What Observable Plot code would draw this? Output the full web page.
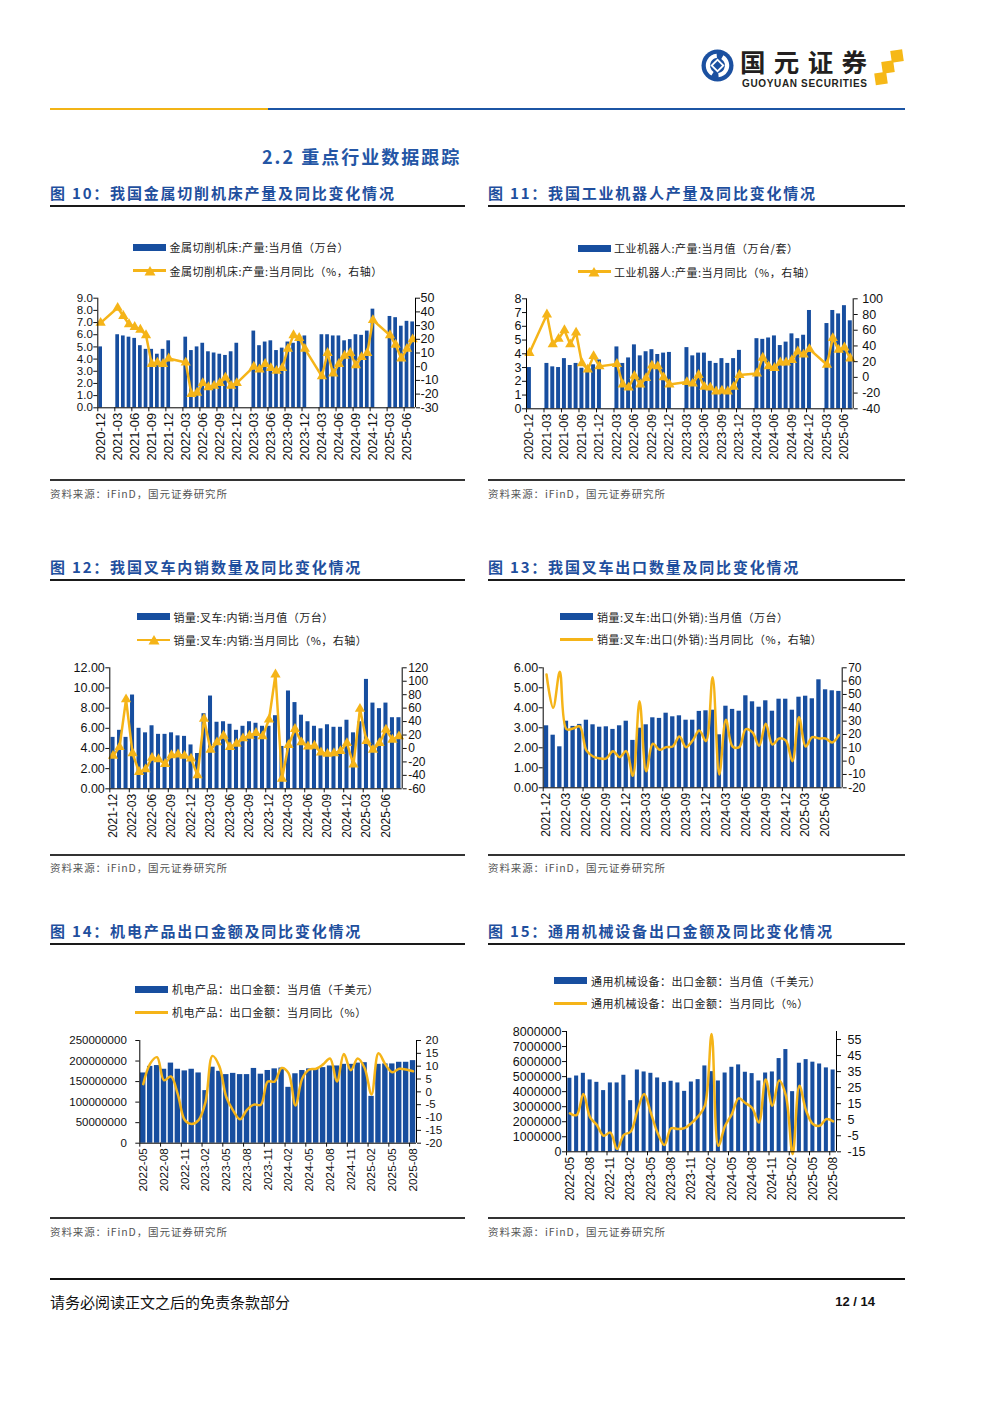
<!DOCTYPE html>
<html><head><meta charset="utf-8">
<script src="https://cdn.jsdelivr.net/npm/d3@7"></script>
<script src="https://cdn.jsdelivr.net/npm/@observablehq/plot@0.6"></script>
<style>
body{margin:0;background:#fff;}
#page{position:relative;width:1000px;height:1414px;overflow:hidden;background:#fff;font-family:"Noto Sans CJK SC","Noto Sans",sans-serif;}
.abs{position:absolute;white-space:nowrap;line-height:1;}
</style></head><body><div id="page"></div>
<script>
// ---------------- DATA ----------------
const monthsA = ["2020-12","2021-01","2021-02","2021-03","2021-04","2021-05","2021-06","2021-07","2021-08","2021-09","2021-10","2021-11","2021-12","2022-01","2022-02","2022-03","2022-04","2022-05","2022-06","2022-07","2022-08","2022-09","2022-10","2022-11","2022-12","2023-01","2023-02","2023-03","2023-04","2023-05","2023-06","2023-07","2023-08","2023-09","2023-10","2023-11","2023-12","2024-01","2024-02","2024-03","2024-04","2024-05","2024-06","2024-07","2024-08","2024-09","2024-10","2024-11","2024-12","2025-01","2025-02","2025-03","2025-04","2025-05","2025-06","2025-07"];
const monthsB = ["2021-12","2022-01","2022-02","2022-03","2022-04","2022-05","2022-06","2022-07","2022-08","2022-09","2022-10","2022-11","2022-12","2023-01","2023-02","2023-03","2023-04","2023-05","2023-06","2023-07","2023-08","2023-09","2023-10","2023-11","2023-12","2024-01","2024-02","2024-03","2024-04","2024-05","2024-06","2024-07","2024-08","2024-09","2024-10","2024-11","2024-12","2025-01","2025-02","2025-03","2025-04","2025-05","2025-06","2025-07","2025-08"];
const monthsC = ["2022-05","2022-06","2022-07","2022-08","2022-09","2022-10","2022-11","2022-12","2023-01","2023-02","2023-03","2023-04","2023-05","2023-06","2023-07","2023-08","2023-09","2023-10","2023-11","2023-12","2024-01","2024-02","2024-03","2024-04","2024-05","2024-06","2024-07","2024-08","2024-09","2024-10","2024-11","2024-12","2025-01","2025-02","2025-03","2025-04","2025-05","2025-06","2025-07","2025-08"];

// 图10 金属切削机床
const c10Output = [5.0,null,null,6.0,5.9,5.8,5.7,5.1,4.8,4.8,4.4,4.8,5.5,null,null,5.8,4.7,5.0,5.3,4.6,4.5,4.4,4.3,4.6,5.3,null,null,6.3,5.1,5.4,5.5,4.7,4.9,5.4,5.3,5.5,5.9,null,null,6.0,6.0,5.9,5.9,5.5,5.6,6.0,5.95,6.3,8.1,null,null,7.5,7.4,6.7,7.1,7.05];
const c10Yoy = [32,null,null,43,37,31,29,27,23,2,3,2,6,null,null,3,-20,-19,-12,-15,-14,-12,-8,-14,-12,null,null,0,-2,2,-1,-3,-1,13,23,21,13,null,null,-7,10,-5,2,8,10,1,7,10,34,null,null,23,16,6,13,20];
// 图11 工业机器人
const c11Output = [3.0,null,null,3.3,3.05,3.0,3.65,3.15,3.3,2.95,2.9,3.2,3.55,null,null,4.5,3.3,3.7,4.65,3.85,4.15,4.3,3.95,4.05,4.1,null,null,4.45,3.85,4.05,4.05,3.45,3.3,3.65,3.3,3.65,4.25,null,null,5.1,5.05,5.15,5.3,4.6,4.85,5.45,5.1,5.35,7.15,null,null,6.2,7.15,6.9,7.5,6.4];
const c11Yoy = [31,null,null,80,42,49,60,42,57,18,10,27,14,null,null,17,-9,-13,2,-9,-1,15,14,0,-9,null,null,-6,-8,3,-12,-13,-18,-17,-18,-12,3,null,null,5,25,14,12,19,19,22,33,29,36,null,null,16,50,35,38,24];
// 图12 叉车内销
const c12Sales = [5.1,5.8,5.1,9.3,6.0,5.55,6.25,5.4,5.4,5.55,5.25,5.2,4.35,3.5,7.45,9.2,6.6,6.65,6.4,5.8,6.2,6.65,6.5,6.2,6.2,7.25,4.2,9.7,8.55,7.3,6.65,6.2,5.95,6.35,6.1,6.1,6.8,5.55,6.65,10.85,8.5,7.95,8.5,7.05,7.05];
const c12Yoy = [-11,2,73,-7,-35,-31,-14,-16,-23,-10,-9,-11,-15,-40,44,-2,9,19,2,7,15,19,23,18,43,110,-45,5,29,9,3,4,-6,-8,-7,-4,8,-24,59,11,-2,8,28,13,18];
// 图13 叉车出口
const c13Sales = [3.1,2.63,2.05,3.33,3.07,3.17,3.38,3.15,3.03,3.05,2.92,3.1,3.33,2.37,2.98,3.15,3.5,3.47,3.73,3.55,3.6,3.38,3.38,3.82,3.85,3.88,2.65,4.08,3.92,3.83,4.6,4.3,4.03,4.35,3.83,4.43,4.43,3.88,4.53,4.58,4.45,5.4,4.9,4.85,4.82];
const c13Yoy = [65,40,67,24,24.5,26,8,3.5,2,2,7.5,3,7.5,-11,45,-7.5,13,8.5,10.5,11,18.5,10.5,15.5,23,15,63,-10,31,11,10.5,24,21.5,11.5,28,12.5,17,15.5,0,33,11,18,17,17,14,19.5];
// 图14 机电产品出口金额（千美元）
const c14Export = [171000000,187000000,189000000,180000000,195000000,180000000,176000000,180000000,171000000,128000000,185000000,175000000,167000000,170000000,167000000,167000000,182000000,168000000,177000000,181000000,183000000,136000000,169000000,177000000,181000000,181000000,184000000,188000000,188000000,192000000,192000000,195000000,196000000,114000000,192000000,193000000,193000000,197000000,197000000,201000000];
const c14Yoy = [3,11,13.5,4.5,6,-1,-11,-12.5,-11,-4,14,10,-2,-7.3,-10.7,-7,-5,-5,4,4,9.3,7.3,-5.3,5.3,8.7,9,10.7,13,4,14.7,8.4,13,9.3,-1,15,10.7,7.6,9,8.7,8];
// 图15 通用机械设备出口金额（千美元）
const c15Export = [4890000,5040000,5220000,4780000,4620000,4070000,4580000,4580000,5090000,3400000,5440000,5310000,5220000,4910000,4600000,4690000,4580000,4020000,4640000,4800000,5710000,5330000,4710000,5240000,5620000,5780000,5290000,5200000,4710000,5240000,5310000,6200000,6800000,4000000,5890000,6130000,5960000,5840000,5580000,5440000];
const c15Yoy = [9,7.9,21,6.5,1.7,-5,-3,-13.3,-4.4,-2.5,10.6,21,9.2,-3.3,-10.8,-0.4,-0.8,-0.2,2.9,7.1,13.75,58.5,-11.25,1.25,8.5,18.3,15.4,12.3,3.3,30,13.75,29.4,20,-16.5,26.25,10.6,2.3,1.25,5.4,4];

// axis tick values
const c10LeftTicks = [0,1,2,3,4,5,6,7,8,9];
const c10RightTicks = [-30,-20,-10,0,10,20,30,40,50];
const c11LeftTicks = [0,1,2,3,4,5,6,7,8];
const c11RightTicks = [-40,-20,0,20,40,60,80,100];
const c12LeftTicks = [0,2,4,6,8,10,12];
const c12RightTicks = [-60,-40,-20,0,20,40,60,80,100,120];
const c13LeftTicks = [0,1,2,3,4,5,6];
const c13RightTicks = [-20,-10,0,10,20,30,40,50,60,70];
const c14LeftTicks = [0,50000000,100000000,150000000,200000000,250000000];
const c14RightTicks = [-20,-15,-10,-5,0,5,10,15,20];
const c15LeftTicks = [0,1000000,2000000,3000000,4000000,5000000,6000000,7000000,8000000];
const c15RightTicks = [-15,-5,5,15,25,35,45,55];

// texts
const figTitles = ["图 10：我国金属切削机床产量及同比变化情况","图 11：我国工业机器人产量及同比变化情况","图 12：我国叉车内销数量及同比变化情况","图 13：我国叉车出口数量及同比变化情况","图 14：机电产品出口金额及同比变化情况","图 15：通用机械设备出口金额及同比变化情况"];
const barNames = ["金属切削机床:产量:当月值（万台）","工业机器人:产量:当月值（万台/套）","销量:叉车:内销:当月值（万台）","销量:叉车:出口(外销):当月值（万台）","机电产品：出口金额：当月值（千美元）","通用机械设备：出口金额：当月值（千美元）"];
const lineNames = ["金属切削机床:产量:当月同比（%，右轴）","工业机器人:产量:当月同比（%，右轴）","销量:叉车:内销:当月同比（%，右轴）","销量:叉车:出口(外销):当月同比（%，右轴）","机电产品：出口金额：当月同比（%）","通用机械设备：出口金额：当月同比（%）"];
const sourceText = "资料来源：iFinD，国元证券研究所";

// ---------------- LAYOUT ----------------
const BLUE = "#174e9f", GOLD = "#f5b418", TITLE = "#1f4f9e";
const page = document.getElementById("page");
function txt(s, x, y, css) {
  const d = document.createElement("div");
  d.className = "abs"; d.textContent = s;
  Object.assign(d.style, {left: x + "px", top: y + "px", transform: "translateY(-50%)"}, css || {});
  page.appendChild(d); return d;
}
function hr(x1, x2, y, h, color) {
  const d = document.createElement("div");
  d.className = "abs";
  Object.assign(d.style, {left: x1 + "px", top: (y - h / 2) + "px", width: (x2 - x1) + "px", height: h + "px", background: color});
  page.appendChild(d);
}

// header
hr(50, 268, 109, 2.6, "#f2b416");
hr(268, 905, 109, 2.6, "#1c55a4");
page.insertAdjacentHTML("beforeend", `
<svg class="abs" style="left:690px;top:40px" width="230" height="55" viewBox="690 40 230 55">
  <circle cx="717.5" cy="65.5" r="16" fill="#1b50a0"/>
  <circle cx="717.5" cy="65.5" r="9.6" fill="none" stroke="#fff" stroke-width="4.2" stroke-dasharray="24 6.2" transform="rotate(-60 717.5 65.5)"/>
  <rect x="712.5" y="60.5" width="10" height="10" fill="#fff" transform="rotate(45 717.5 65.5)"/>
  <rect x="714.3" y="62.3" width="6.4" height="6.4" fill="#1b50a0" transform="rotate(45 717.5 65.5)"/>
  <text x="740" y="72" font-family="Noto Sans CJK SC" font-weight="700" font-size="25.5" fill="#231f20" textLength="127" lengthAdjust="spacing">国元证券</text>
  <text x="742" y="86.5" font-family="Liberation Sans, Arial" font-weight="700" font-size="10" fill="#231f20" textLength="125" lengthAdjust="spacing">GUOYUAN SECURITIES</text>
  <rect x="891" y="50" width="12" height="12" fill="#f6b817" transform="rotate(-8 897 56)"/>
  <rect x="882" y="61" width="12" height="12" fill="#f6b817" transform="rotate(-8 888 67)"/>
  <rect x="875" y="72.5" width="12" height="12" fill="#f6b817" transform="rotate(-8 881 78.5)"/>
</svg>`);

txt("2.2 重点行业数据跟踪", 262, 156, {fontSize: "18px", fontWeight: "700", letterSpacing: "2px", color: "#2456a5"});

// section frames
const rows = [{title: 192, under: 206, bottom: 480, src: 494}, {title: 566, under: 580, bottom: 855, src: 868}, {title: 930, under: 944, bottom: 1218, src: 1232}];
const cols = [{x1: 50, x2: 465}, {x1: 488, x2: 905}];
rows.forEach((r, ri) => cols.forEach((c, ci) => {
  txt(figTitles[ri * 2 + ci], c.x1, r.title, {fontSize: "15px", fontWeight: "700", letterSpacing: "1.8px", color: TITLE});
  hr(c.x1, c.x2, r.under, 2, "#1a1a1a");
  hr(c.x1, c.x2, r.bottom, 1.5, "#333");
  txt(sourceText, c.x1, r.src, {fontSize: "10.5px", letterSpacing: "0.9px", color: "#555"});
}));

// footer
hr(50, 905, 1279, 2.5, "#111");
txt("请务必阅读正文之后的免责条款部分", 50, 1301, {fontSize: "15px", color: "#111"});
const pg = txt("12 / 14", 0, 1301, {fontSize: "13px", fontWeight: "700", fontFamily: "Liberation Sans, Arial", color: "#111"});
pg.style.left = ""; pg.style.right = "125px";

// legends
function legend(k, L) {
  const sw = document.createElement("div"); sw.className = "abs";
  Object.assign(sw.style, {left: L.sx + "px", top: (L.y1 - 3.5) + "px", width: L.sw + "px", height: "7px", background: BLUE});
  page.appendChild(sw);
  const ln = document.createElement("div"); ln.className = "abs";
  Object.assign(ln.style, {left: L.sx + "px", top: (L.y2 - 1.25) + "px", width: L.sw + "px", height: "2.5px", background: GOLD});
  page.appendChild(ln);
  if (L.marker) {
    page.insertAdjacentHTML("beforeend", `<svg class="abs" style="left:${L.sx + L.sw / 2 - 6}px;top:${L.y2 - 6}px" width="12" height="12"><polygon points="6,1 11.5,10.5 0.5,10.5" fill="${GOLD}"/></svg>`);
  }
  const st = {fontSize: "11px", letterSpacing: "0.5px", color: "#222"};
  txt(barNames[k], L.tx, L.y1, st);
  txt(lineNames[k], L.tx, L.y2, st);
}

// charts
function chart(c) {
  const n = c.months.length;
  const data = c.months.map((m, i) => ({i, m, v: c.bars[i], r: c.yoy[i]}));
  const [l0, l1] = c.left, [r0, r1] = c.right;
  const toL = r => l0 + (r - r0) / (r1 - r0) * (l1 - l0);
  const toR = y => r0 + (y - l0) / (l1 - l0) * (r1 - r0);
  const lineRows = data.filter(d => d.r != null);
  const labelIdx = data.filter(d => d.i % 3 === 0).map(d => d.i);
  const hw = c.bw / 2;
  const marks = [
    Plot.rectY(data.filter(d => d.v != null), {x1: d => d.i - hw, x2: d => d.i + hw, y1: 0, y2: "v", fill: BLUE}),
    Plot.line(lineRows, {x: "i", y: d => toL(d.r), stroke: GOLD, strokeWidth: 2.5, curve: c.curve})
  ];
  if (c.marker) marks.push(Plot.dot(lineRows, {x: "i", y: d => toL(d.r), symbol: "triangle", r: 3.8, fill: GOLD}));
  marks.push(
    Plot.ruleX([-0.5], {stroke: "#000"}),
    Plot.ruleX([n - 0.5], {stroke: "#000"}),
    Plot.ruleY([l0], {stroke: "#000"}),
    Plot.axisY(c.leftTicks, {anchor: "left", tickSize: 4, tickPadding: c.lpad, tickFormat: c.leftFmt, label: null, fontSize: c.yFont}),
    Plot.axisY(c.rightTicks.map(toL), {anchor: "right", tickSize: 4, tickPadding: c.rpad, tickFormat: y => String(Math.round(toR(y))), label: null, fontSize: c.rFont}),
    Plot.axisX(labelIdx.map(i => i - 0.5), {tickSize: 4, tickFormat: () => "", label: null}),
    Plot.axisX(labelIdx, {tickSize: 0, tickPadding: 5, tickRotate: -90, tickFormat: i => c.months[i], label: null, fontSize: c.xFont})
  );
  const svg = Plot.plot({
    width: c.w, height: c.h,
    marginLeft: c.ml, marginRight: c.mr, marginTop: c.mt, marginBottom: c.mb,
    x: {domain: [-0.5, n - 0.5], axis: null},
    y: {domain: [l0, l1], axis: null},
    style: {fontFamily: '"Liberation Sans", Arial, sans-serif', fontSize: "12px", color: "#111", background: "transparent", overflow: "visible"},
    marks
  });
  const box = document.createElement("div"); box.className = "abs";
  Object.assign(box.style, {left: c.x + "px", top: c.y + "px", width: c.w + "px", height: c.h + "px"});
  box.appendChild(svg);
  page.appendChild(box);
}

const f1 = d3.format(".1f"), f2 = d3.format(".2f"), fi = d => String(d);
const configs = [
  {months: monthsA, bars: c10Output, yoy: c10Yoy, left: [0, 9], right: [-30, 50], leftTicks: c10LeftTicks, rightTicks: c10RightTicks, leftFmt: f1, marker: true, curve: "linear",
   x: 40, y: 287, w: 420, h: 175, ml: 57.3, mr: 45, mt: 10.7, mb: 54.7, bw: 0.65, yFont: 11.5, rFont: 12.5, xFont: 13, lpad: 1, rpad: 1,
   legend: {sx: 133, sw: 33, y1: 247.3, y2: 270.7, tx: 169.5, marker: true}},
  {months: monthsA, bars: c11Output, yoy: c11Yoy, left: [0, 8], right: [-40, 100], leftTicks: c11LeftTicks, rightTicks: c11RightTicks, leftFmt: fi, marker: true, curve: "linear",
   x: 480, y: 287, w: 420, h: 175, ml: 46, mr: 47.3, mt: 11.3, mb: 53.7, bw: 0.68, yFont: 12.5, rFont: 12.5, xFont: 12.5, lpad: 1, rpad: 5,
   legend: {sx: 577.5, sw: 33, y1: 248.3, y2: 271.7, tx: 614, marker: true}},
  {months: monthsB, bars: c12Sales, yoy: c12Yoy, left: [0, 12], right: [-60, 120], leftTicks: c12LeftTicks, rightTicks: c12RightTicks, leftFmt: f2, marker: true, curve: "linear",
   x: 40, y: 657, w: 420, h: 190, ml: 69.3, mr: 58.3, mt: 10.3, mb: 58.7, bw: 0.62, yFont: 12.5, rFont: 12, xFont: 12, lpad: 1, rpad: 2,
   legend: {sx: 137, sw: 33, y1: 616.5, y2: 640, tx: 173.5, marker: true}},
  {months: monthsB, bars: c13Sales, yoy: c13Yoy, left: [0, 6], right: [-20, 70], leftTicks: c13LeftTicks, rightTicks: c13RightTicks, leftFmt: f2, marker: false, curve: "catmull-rom",
   x: 480, y: 657, w: 420, h: 190, ml: 62.7, mr: 58.3, mt: 10.3, mb: 59.7, bw: 0.65, yFont: 12.5, rFont: 12, xFont: 12, lpad: 1, rpad: 2,
   legend: {sx: 560, sw: 33, y1: 616.5, y2: 639.3, tx: 597, marker: false}},
  {months: monthsC, bars: c14Export, yoy: c14Yoy, left: [0, 250000000], right: [-20, 20], leftTicks: c14LeftTicks, rightTicks: c14RightTicks, leftFmt: fi, marker: false, curve: "catmull-rom",
   x: 40, y: 1030, w: 420, h: 170, ml: 99.3, mr: 44, mt: 10, mb: 57.3, bw: 0.78, yFont: 11.5, rFont: 11.5, xFont: 11.8, lpad: 9, rpad: 5,
   legend: {sx: 135, sw: 33, y1: 989, y2: 1012.3, tx: 172, marker: false}},
  {months: monthsC, bars: c15Export, yoy: c15Yoy, left: [0, 8000000], right: [-15, 60], leftTicks: c15LeftTicks, rightTicks: c15RightTicks, leftFmt: fi, marker: false, curve: "catmull-rom",
   x: 480, y: 1020, w: 420, h: 190, ml: 86, mr: 64, mt: 11, mb: 58.7, bw: 0.6, yFont: 12.5, rFont: 12.5, xFont: 12, lpad: 1, rpad: 7,
   legend: {sx: 553.5, sw: 33, y1: 980.7, y2: 1003.3, tx: 591, marker: false}}
];
configs.forEach((c, k) => { chart(c); legend(k, c.legend); });
</script></body></html>
